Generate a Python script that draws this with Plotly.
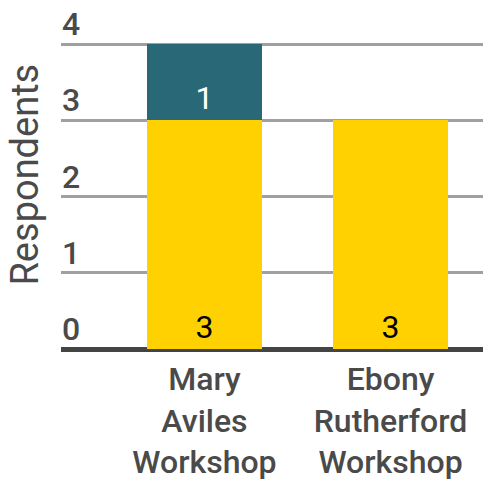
import plotly.graph_objects as go

categories = ["Mary<br>Aviles<br>Workshop", "Ebony<br>Rutherford<br>Workshop"]
series_a = [3, 3]
series_b = [1, 0]
tick_vals = [0, 1, 2, 3, 4]
axis_title = "Respondents"

yellow = "#FFD100"
teal = "#296877"
grey_text = "#4a4a4a"
font_family = "Roboto"

fig = go.Figure()
fig.add_trace(go.Bar(
    x=[0, 1], y=series_a, marker_color=yellow, marker_line_width=0,
    text=[str(v) for v in series_a], textposition="inside", insidetextanchor="start",
    textfont=dict(color="black", size=32, family=font_family), width=0.62,
))
fig.add_trace(go.Bar(
    x=[0, 1], y=series_b, marker_color=teal, marker_line_width=0,
    text=[str(v) if v else "" for v in series_b], textposition="inside", insidetextanchor="start",
    textfont=dict(color="white", size=32, family=font_family), width=0.62,
))

annotations = []
for v in tick_vals:
    annotations.append(dict(
        x=0, xref="paper", xanchor="left", xshift=-1,
        y=v, yref="y", yanchor="bottom", yshift=-1,
        text=str(v), showarrow=False,
        font=dict(size=32, color=grey_text, family=font_family, weight=500),
    ))
annotations.append(dict(
    x=0, xref="paper", xshift=-36, xanchor="center",
    y=2.29, yref="y", yanchor="middle",
    text=axis_title, textangle=-90, showarrow=False,
    font=dict(size=38, color=grey_text, family=font_family),
))

fig.update_layout(
    width=483, height=481,
    margin=dict(l=61, r=0, t=42, b=130),
    barmode="stack",
    showlegend=False,
    plot_bgcolor="white", paper_bgcolor="white",
    font=dict(family=font_family, color=grey_text, size=30),
    annotations=annotations,
)
fig.update_xaxes(
    tickvals=[0, 1], ticktext=categories, range=[-0.771, 1.497],
    showgrid=False, zeroline=False, showline=False, ticks="",
    ticklabelstandoff=8,
    tickfont=dict(size=32, color=grey_text, family=font_family, weight=500),
)
fig.update_yaxes(
    range=[0, 4.03], tickvals=tick_vals, showticklabels=False,
    showgrid=True, gridcolor="#a0a0a0", gridwidth=2.5,
    zeroline=True, zerolinecolor="#444444", zerolinewidth=5,
    showline=False, ticks="",
)

fig.write_html("out.html")
